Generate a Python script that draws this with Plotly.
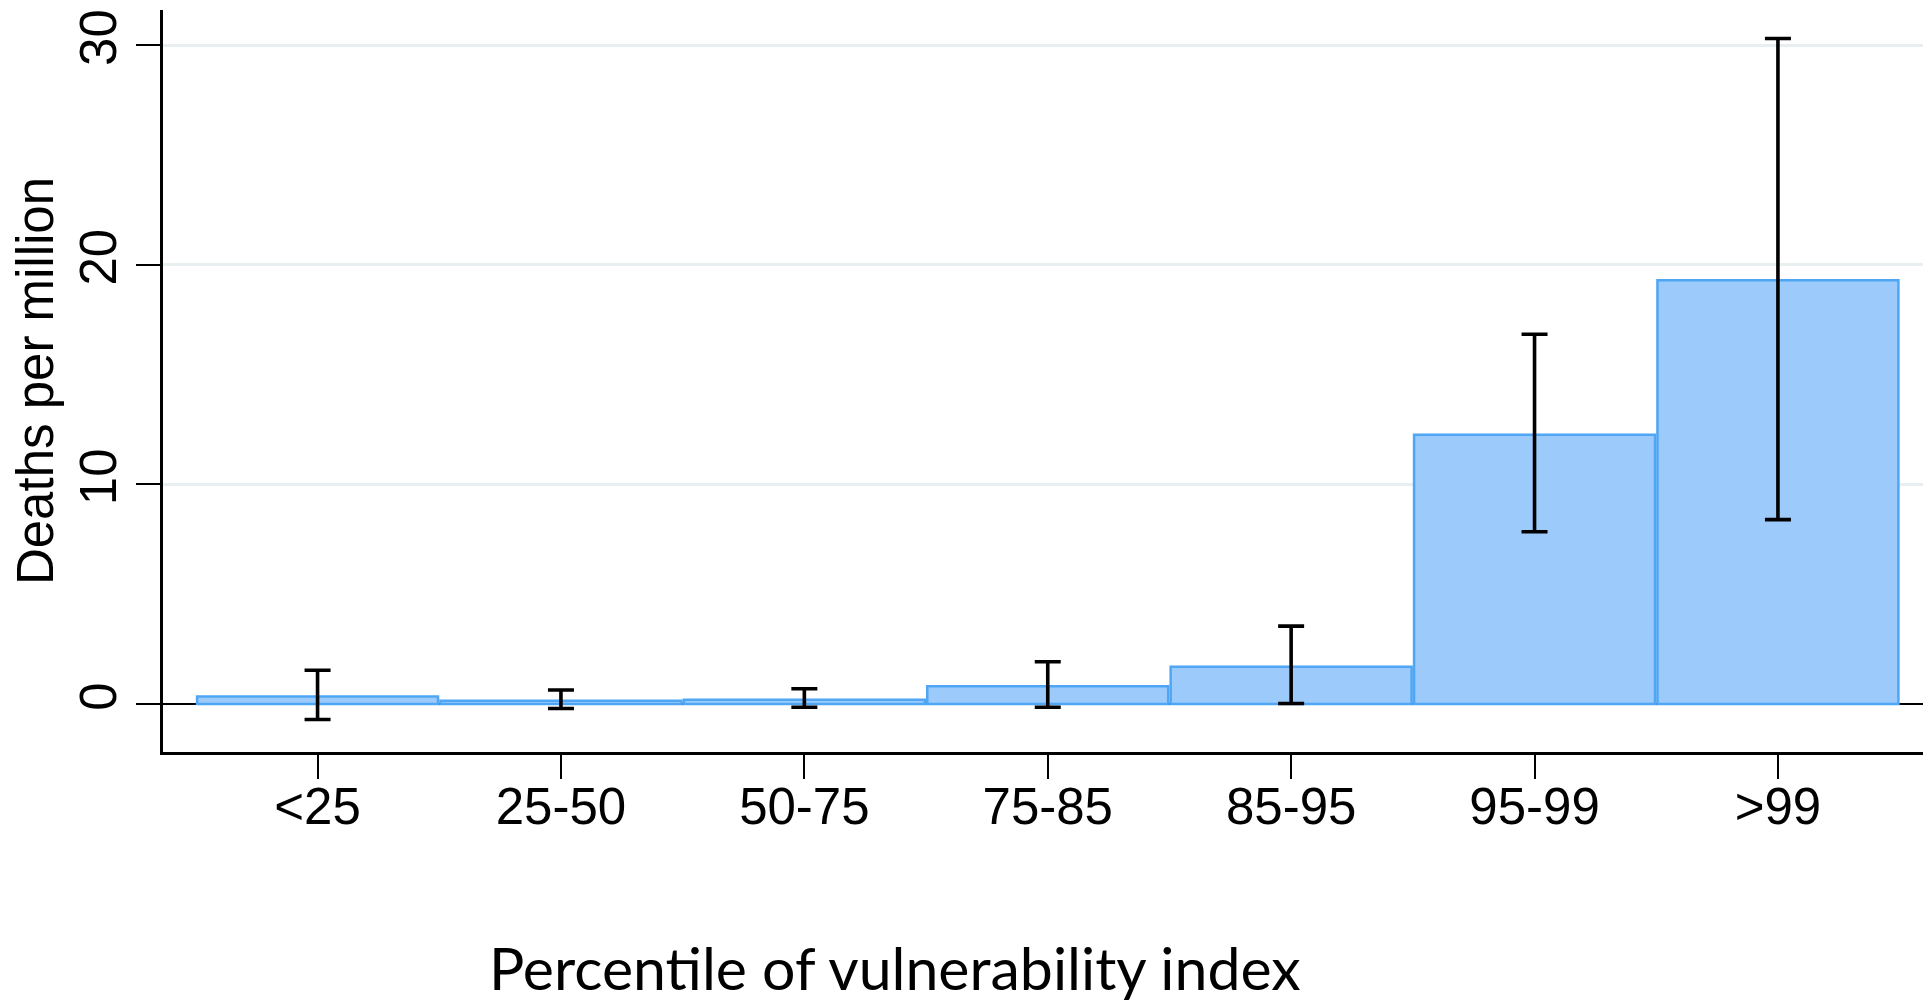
import plotly.graph_objects as go

categories = ["<25", "25-50", "50-75", "75-85", "85-95", "95-99", ">99"]
deaths = [0.35, 0.15, 0.2, 0.81, 1.7, 12.26, 19.3]
ci_upper = [1.54, 0.64, 0.7, 1.93, 3.55, 16.84, 30.3]
ci_lower = [-0.70, -0.2, -0.14, -0.14, 0.03, 7.85, 8.4]
y_ticks = [0, 10, 20, 30]

err_plus = [u - d for u, d in zip(ci_upper, deaths)]
err_minus = [d - l for d, l in zip(deaths, ci_lower)]

fig = go.Figure()
fig.add_trace(go.Bar(
    x=categories, y=deaths, width=0.99,
    marker=dict(color="#9ccbfb", line=dict(color="#4fa6f5", width=2.5)),
    error_y=dict(type="data", symmetric=False, array=err_plus, arrayminus=err_minus,
                 color="black", thickness=3.6, width=13),
))

fig.update_layout(
    width=1923, height=1002,
    margin=dict(l=163, r=0, t=10, b=250),
    plot_bgcolor="white", paper_bgcolor="white",
    showlegend=False,
    font=dict(family="Liberation Sans, Arial", size=51, color="black"),
    xaxis=dict(
        range=[-0.635, 6.596], showline=True, linecolor="black", linewidth=3,
        ticks="outside", ticklen=24, tickwidth=2, tickcolor="black",
        tickfont=dict(size=51), showgrid=False, zeroline=False,
        ticklabelstandoff=-16,
    ),
    yaxis=dict(
        range=[-2.18, 31.6], tickvals=y_ticks, showline=True, linecolor="black", linewidth=3,
        ticks="outside", ticklen=24, tickwidth=2, tickcolor="black",
        tickangle=-90, tickfont=dict(size=51),
        showgrid=True, gridcolor="#e8eff0", gridwidth=3,
        zeroline=True, zerolinecolor="black", zerolinewidth=1.5,
        title=dict(text="Deaths per million", font=dict(size=51), standoff=0),
    ),
    annotations=[dict(
        text="Percentile of vulnerability index", xref="paper", yref="paper",
        x=0.416, y=-0.29, xanchor="center", yanchor="middle", showarrow=False,
        font=dict(family="Lato, Open Sans", size=59, color="black"),
    )],
)

fig.write_html("out.html")
